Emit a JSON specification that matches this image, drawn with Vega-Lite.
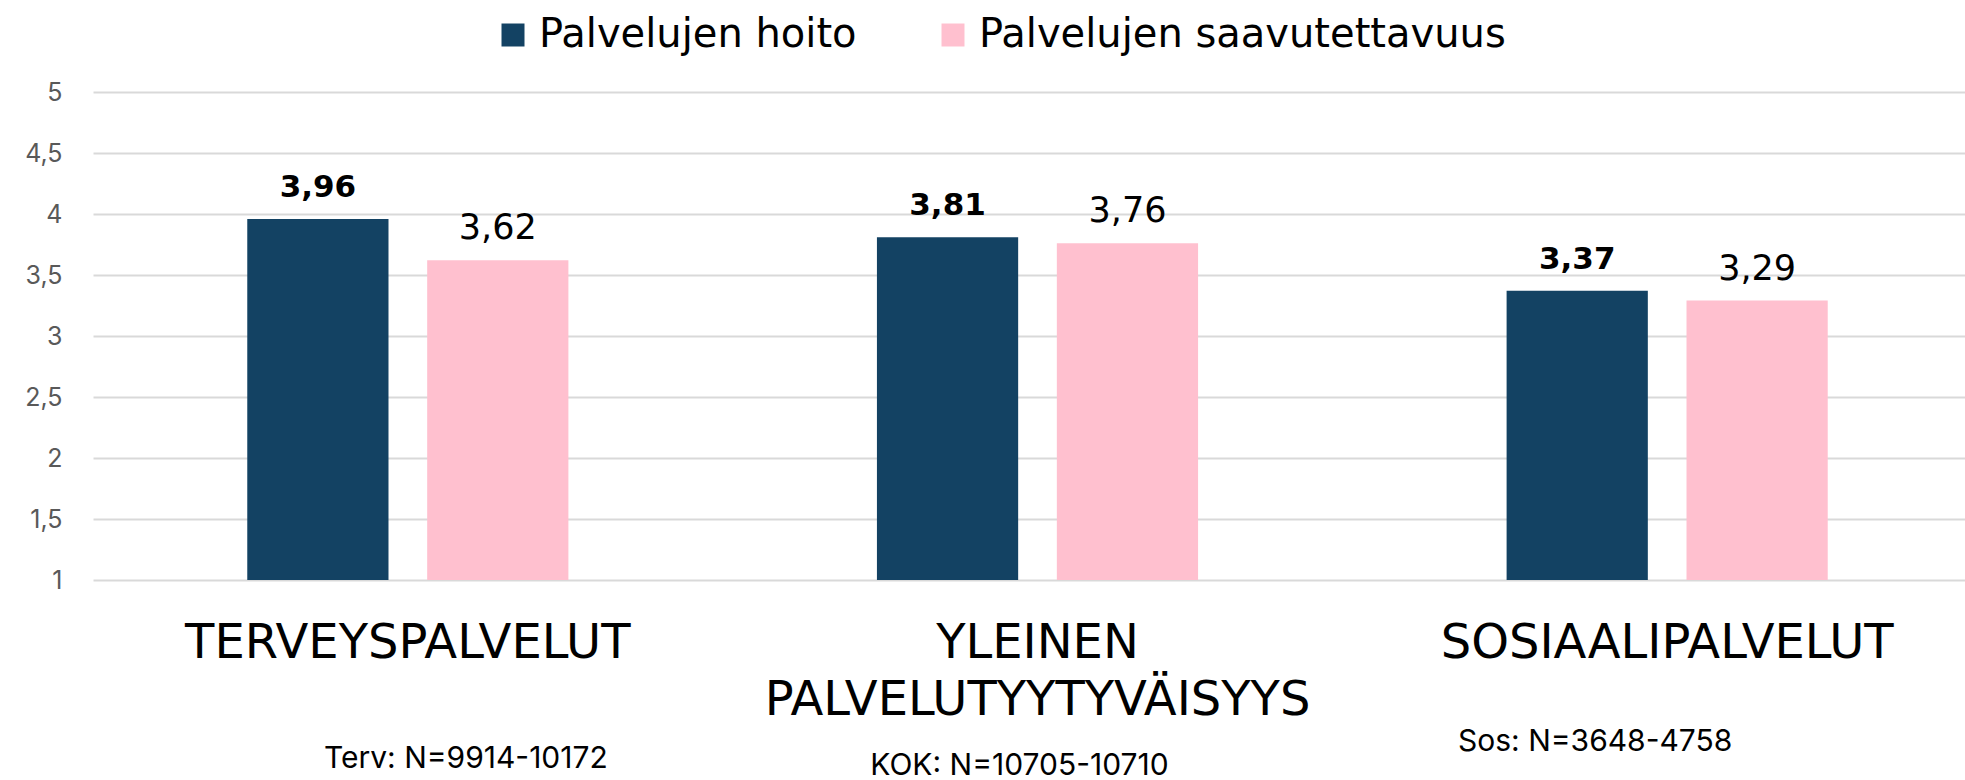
{
  "$schema": "https://vega.github.io/schema/vega-lite/v6.json",
  "autosize": {"type": "none"},
  "padding": {"left": 93, "top": 92, "right": 0, "bottom": 200},
  "width": 1889,
  "height": 488,
  "config": {
    "view": {"stroke": null},
    "locale": {"number": {"decimal": ",", "thousands": "\u00a0", "grouping": [3], "currency": ["", " €"]}},
    "font": "Inter"
  },
  "data": {
    "values": [
      {"key": "TERVEYSPALVELUT|Terv: N=9914-10172", "series": "Palvelujen hoito", "value": 3.96},
      {"key": "TERVEYSPALVELUT|Terv: N=9914-10172", "series": "Palvelujen saavutettavuus", "value": 3.62},
      {"key": "YLEINEN PALVELUTYYTYVÄISYYS|KOK: N=10705-10710", "series": "Palvelujen hoito", "value": 3.81},
      {"key": "YLEINEN PALVELUTYYTYVÄISYYS|KOK: N=10705-10710", "series": "Palvelujen saavutettavuus", "value": 3.76},
      {"key": "SOSIAALIPALVELUT|Sos: N=3648-4758", "series": "Palvelujen hoito", "value": 3.37},
      {"key": "SOSIAALIPALVELUT|Sos: N=3648-4758", "series": "Palvelujen saavutettavuus", "value": 3.29}
    ]
  },
  "encoding": {
    "x": {"field": "key", "type": "nominal", "sort": null,
      "scale": {"paddingInner": 0.49, "paddingOuter": 0.245}},
    "xOffset": {"field": "series", "type": "nominal", "sort": null,
      "scale": {"paddingInner": 0.215, "paddingOuter": 0}},
    "y": {"field": "value", "type": "quantitative",
      "scale": {"domain": [1, 5], "nice": false, "zero": false}}
  },
  "layer": [
    {
      "mark": {"type": "bar"},
      "encoding": {
        "x": {"field": "key", "type": "nominal", "sort": null,
          "scale": {"paddingInner": 0.49, "paddingOuter": 0.245},
          "axis": {"orient": "bottom", "title": null, "domain": false, "ticks": false, "grid": false,
            "labelAngle": 0, "labelFont": "DejaVu Sans", "labelFontSize": 48, "labelColor": "#000000",
            "labelBaseline": "top", "labelPadding": 39, "labelLineHeight": 57, "labelLimit": 0,
            "labelExpr": "split(split(datum.value, '|')[0], ' ')"}},
        "y": {"field": "value", "type": "quantitative",
          "scale": {"domain": [1, 5], "nice": false, "zero": false},
          "axis": {"title": null, "domain": false, "ticks": false, "tickCount": 8,
            "gridColor": "#d9d9d9", "gridWidth": 2, "format": ".1~f",
            "labelFont": "Inter", "labelFontSize": 25, "labelColor": "#595959", "labelPadding": 31}},
        "y2": {"datum": 1},
        "color": {"field": "series", "type": "nominal", "sort": null,
          "scale": {"domain": ["Palvelujen hoito", "Palvelujen saavutettavuus"], "range": ["#134263", "#FFC0CF"]},
          "legend": {"orient": "none", "legendX": 400, "legendY": -77, "direction": "horizontal", "title": null,
            "symbolType": "square", "symbolSize": 529, "symbolStrokeWidth": 0, "symbolOpacity": 1,
            "labelFont": "DejaVu Sans", "labelFontSize": 40, "labelColor": "#000000", "labelOffset": 6,
            "columnPadding": 76, "labelLimit": 0}}
      }
    },
    {
      "transform": [{"filter": "datum.series === 'Palvelujen hoito'"}],
      "mark": {"type": "text", "font": "DejaVu Sans", "fontSize": 31, "fontWeight": "bold", "baseline": "alphabetic", "dy": -22, "color": "#000000"},
      "encoding": {
        "x": {"field": "key", "type": "nominal", "sort": null,
          "scale": {"paddingInner": 0.49, "paddingOuter": 0.245},
          "axis": {"orient": "bottom", "title": null, "domain": false, "ticks": false, "grid": false,
            "labelAngle": 0, "labelFont": "Inter", "labelFontSize": 30, "labelColor": "#000000",
            "labelBaseline": "top", "labelLimit": 0,
            "labelPadding": {"condition": [
              {"test": "indexof(datum.value, 'Terv') >= 0", "value": 163},
              {"test": "indexof(datum.value, 'KOK') >= 0", "value": 170}], "value": 146},
            "labelOffset": {"condition": [
              {"test": "indexof(datum.value, 'Terv') >= 0", "value": 58},
              {"test": "indexof(datum.value, 'KOK') >= 0", "value": -18}], "value": -72},
            "labelExpr": "split(datum.value, '|')[1]"}},
        "text": {"field": "value", "type": "quantitative", "format": ".2f"}
      }
    },
    {
      "transform": [{"filter": "datum.series === 'Palvelujen saavutettavuus'"}],
      "mark": {"type": "text", "font": "DejaVu Sans", "fontSize": 35, "baseline": "alphabetic", "dy": -21, "color": "#000000"},
      "encoding": {
        "x": {"field": "key", "type": "nominal", "sort": null,
          "scale": {"paddingInner": 0.49, "paddingOuter": 0.245}, "axis": null},
        "text": {"field": "value", "type": "quantitative", "format": ".2f"}
      }
    }
  ],
  "resolve": {"axis": {"x": "independent"}}
}
